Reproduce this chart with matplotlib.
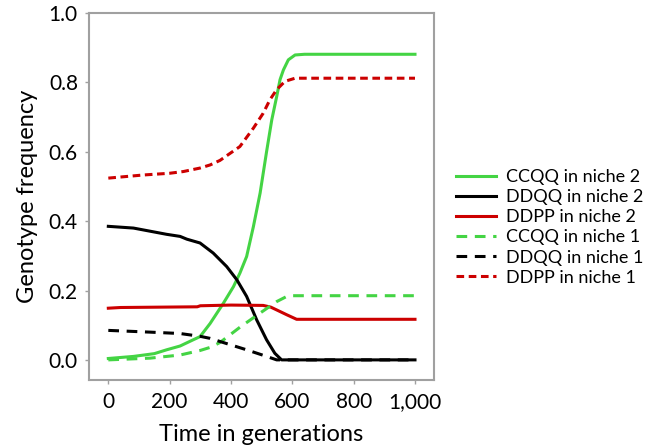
import matplotlib
matplotlib.use("Agg")
import matplotlib.pyplot as plt

plt.rcParams['font.family'] = ['Lato', 'DejaVu Sans']

# Data
x_ccqq2 = [0, 82, 150, 190, 234, 277, 299, 332, 375, 408, 429, 451, 473, 495, 516, 533, 549, 560, 571, 587, 609, 640, 1000]
y_ccqq2 = [0.004, 0.01, 0.018, 0.029, 0.04, 0.058, 0.067, 0.105, 0.163, 0.211, 0.25, 0.298, 0.384, 0.481, 0.6, 0.692, 0.759, 0.808, 0.836, 0.865, 0.879, 0.881, 0.881]

x_ddqq2 = [0, 82, 190, 234, 256, 299, 342, 386, 419, 451, 484, 516, 543, 565, 1000]
y_ddqq2 = [0.385, 0.38, 0.362, 0.356, 0.348, 0.337, 0.308, 0.269, 0.231, 0.183, 0.115, 0.058, 0.019, 0.0, 0.0]

x_ddpp2 = [0, 40, 290, 300, 400, 505, 530, 549, 582, 614, 1000]
y_ddpp2 = [0.149, 0.151, 0.153, 0.156, 0.158, 0.157, 0.152, 0.144, 0.13, 0.117, 0.117]

x_ccqq1 = [0, 136, 234, 299, 332, 364, 429, 495, 549, 582, 600, 1000]
y_ccqq1 = [0.0, 0.005, 0.014, 0.027, 0.036, 0.05, 0.094, 0.135, 0.168, 0.183, 0.185, 0.185]

x_ddqq1 = [0, 136, 234, 299, 332, 375, 451, 516, 549, 1000]
y_ddqq1 = [0.085, 0.08, 0.076, 0.068, 0.062, 0.05, 0.029, 0.01, 0.0, 0.0]

x_ddpp1 = [0, 114, 200, 245, 299, 332, 364, 429, 473, 505, 527, 549, 576, 609, 1000]
y_ddpp1 = [0.524, 0.533, 0.538, 0.543, 0.553, 0.562, 0.575, 0.615, 0.668, 0.711, 0.75, 0.779, 0.803, 0.812, 0.812]

labels = ["CCQQ in niche 2", "DDQQ in niche 2", "DDPP in niche 2",
          "CCQQ in niche 1", "DDQQ in niche 1", "DDPP in niche 1"]
xticks = [0, 200, 400, 600, 800, 1000]
xticklabels = ["0", "200", "400", "600", "800", "1,000"]
yticks = [0.0, 0.2, 0.4, 0.6, 0.8, 1.0]

green = "#44d444"
red = "#cc0000"
black = "#000000"

fig = plt.figure(figsize=(6.62, 4.47), dpi=100)
ax = fig.add_axes([89/662, 67/447, 345/662, 367/447])

lw = 2.2
kw = dict(lw=lw, solid_joinstyle='round', dash_joinstyle='round')
ax.plot(x_ccqq2, y_ccqq2, color=green, label=labels[0], **kw)
ax.plot(x_ddqq2, y_ddqq2, color=black, label=labels[1], **kw)
ax.plot(x_ddpp2, y_ddpp2, color=red, label=labels[2], **kw)
ax.plot(x_ccqq1, y_ccqq1, color=green, ls=(0, (3.5, 2.5)), label=labels[3], **kw)
ax.plot(x_ddqq1, y_ddqq1, color=black, ls=(0, (3.5, 2.5)), label=labels[4], **kw)
ax.plot(x_ddpp1, y_ddpp1, color=red, ls=(0, (2.5, 1.5)), label=labels[5], **kw)

ax.set_xlim(-63, 1062)
ax.set_ylim(-0.058, 1.0)
ax.set_xticks(xticks)
ax.set_xticklabels(xticklabels)
ax.set_yticks(yticks)
ax.set_yticklabels([f"{v:.1f}" for v in yticks])

for s in ax.spines.values():
    s.set_color("#a0a0a0")
    s.set_linewidth(1.5)

ax.tick_params(axis='y', length=3, width=1, color="#a0a0a0", labelsize=15, pad=5)
ax.tick_params(axis='x', length=3, width=1, color="#a0a0a0", labelsize=15, pad=6)

ax.set_xlabel("Time in generations", fontsize=17, labelpad=8)
ax.set_ylabel("Genotype frequency", fontsize=17, labelpad=8)

leg = fig.legend(loc='upper left', bbox_to_anchor=(456/662, (447-169)/447),
                 frameon=False, fontsize=13, handlelength=2.2, handletextpad=0.55,
                 labelspacing=0.23, borderpad=0, borderaxespad=0)

fig.savefig("out.png", dpi=100)
